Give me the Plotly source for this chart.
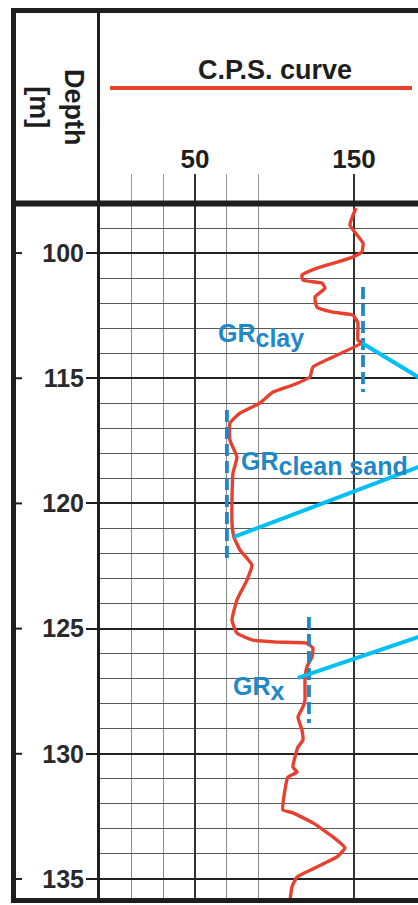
import plotly.graph_objects as go

# ---- log data -------------------------------------------------------------
# C.P.S. gamma-ray curve: depth [m] and counts per second
DEPTH = [108.20, 108.88, 109.60, 109.96, 110.20, 110.60, 110.88, 111.08, 111.20, 111.40,
         111.76, 112.16, 112.36, 112.48, 112.80, 113.47, 113.59, 114.15, 114.55, 114.95,
         115.27, 115.55, 115.99, 116.39, 116.79, 117.47, 118.15, 118.79, 119.86, 120.78,
         121.34, 121.86, 122.46, 123.06, 123.86, 124.66, 125.18, 125.46, 125.54, 125.58,
         125.78, 126.13, 126.53, 127.05, 127.85, 128.13, 128.53, 129.05, 129.45, 129.73,
         130.13, 130.53, 130.73, 130.93, 131.45, 132.24, 132.36, 132.76, 133.32, 133.76,
         134.12, 134.52, 134.92, 135.32, 135.92]
CPS = [151.3, 147.5, 155.7, 155.0, 147.5, 126.7, 117.3, 117.9, 129.9, 131.8,
       125.5, 126.7, 136.8, 149.4, 152.5, 152.5, 155.0, 136.8, 124.2, 122.3,
       111.6, 99.1, 90.9, 78.3, 72.0, 72.0, 76.4, 73.9, 73.3, 73.3,
       74.5, 78.3, 85.8, 82.7, 76.4, 73.3, 76.4, 86.5, 101.6, 120.4,
       124.2, 123.6, 120.4, 119.2, 119.2, 117.9, 114.8, 117.3, 117.9, 114.8,
       112.9, 111.6, 114.2, 108.5, 106.6, 105.3, 111.6, 124.2, 136.8, 144.3,
       139.3, 126.7, 114.2, 111.0, 109.7]

# Reference GR readings (dashed markers)
GR_NAMES = ["clay", "clean sand", "x"]
GR_VALUES = [155.7, 70.1, 121.7]
GR_TOP = [111.36, 116.27, 124.54]
GR_BASE = [115.55, 122.34, 128.77]

# Pointer lines from each reading off to the right
LINK_FROM_CPS = [155.0, 74.5, 114.8]
LINK_FROM_DEPTH = [113.59, 121.34, 126.97]
LINK_TO_CPS = [200.0, 200.0, 200.0]
LINK_TO_DEPTH = [115.32, 118.32, 125.13]

# Axis ticks
DEPTH_TICKS = [110, 115, 120, 125, 130, 135]
DEPTH_TICK_TEXT = ["100", "115", "120", "125", "130", "135"]
DEPTH_MINOR = [d for d in range(109, 136) if d % 5]
CPS_TICKS = [50, 150]
CPS_TICK_TEXT = ["50", "150"]
CPS_MINOR = [10, 30, 70, 90]

# ---- style ----------------------------------------------------------------
W, H = 418, 905
RED = "#e8402f"
BLUE = "#1e88c8"
CYAN = "#00bff3"
INK = "#1e1e1e"
FONT = "Liberation Sans, Arial, sans-serif"

def px(x):
    return x / W

def py(y):
    return 1 - y / H

TRACK_LEFT, TRACK_TOP, TRACK_BOTTOM = 98, 206, 898

fig = go.Figure()

fig.add_trace(go.Scatter(
    x=CPS, y=DEPTH, mode="lines",
    line=dict(color=RED, width=3.4, shape="spline", smoothing=0.4),
    hoverinfo="skip", showlegend=False,
))

for val, top, base in zip(GR_VALUES, GR_TOP, GR_BASE):
    fig.add_trace(go.Scatter(
        x=[val, val], y=[top, base], mode="lines",
        line=dict(color=BLUE, width=3.8, dash="12px,5px"),
        hoverinfo="skip", showlegend=False,
    ))

for x0, y0, x1, y1 in zip(LINK_FROM_CPS, LINK_FROM_DEPTH, LINK_TO_CPS, LINK_TO_DEPTH):
    fig.add_trace(go.Scatter(
        x=[x0, x1], y=[y0, y1], mode="lines",
        line=dict(color=CYAN, width=4),
        hoverinfo="skip", showlegend=False,
    ))

# GR labels
label_pos = [(63.5, 113.3), (77.5, 118.4), (72.5, 127.4)]
for name, (lx, ly) in zip(GR_NAMES, label_pos):
    fig.add_annotation(
        x=lx, y=ly, xref="x", yref="y", xanchor="left", yanchor="middle",
        text=f"GR<sub><span style='font-size:25px'>{name}</span></sub>",
        showarrow=False,
        font=dict(family=FONT, size=25, color=BLUE, weight="bold"),
    )

# Header texts
fig.add_annotation(
    x=px(275), y=py(70), xref="paper", yref="paper",
    xanchor="center", yanchor="middle",
    text="C.P.S. curve", showarrow=False,
    font=dict(family=FONT, size=27, color=INK, weight="bold"),
)
fig.add_annotation(
    x=px(56), y=py(107), xref="paper", yref="paper",
    xanchor="center", yanchor="middle",
    text="Depth<br>[m]", textangle=90, showarrow=False,
    font=dict(family=FONT, size=27, color=INK, weight="bold"),
)

# Frame, dividers and the legend line
frame = [
    (12, 10.5, W + 5, 10.5, 5),        # top
    (13.5, 8, 13.5, 903, 5),           # left
    (11, 203.5, W + 5, 203.5, 6),      # header base
    (11, 900.5, W + 5, 900.5, 5),      # bottom
    (98.5, 10, 98.5, 900, 3),          # depth column divider
]
for x0, y0, x1, y1, w in frame:
    fig.add_shape(type="line", xref="paper", yref="paper",
                  x0=px(x0), y0=py(y0), x1=px(x1), y1=py(y1),
                  line=dict(color=INK, width=w))
fig.add_shape(type="line", xref="paper", yref="paper",
              x0=px(110), y0=py(88), x1=px(412), y1=py(88),
              line=dict(color=RED, width=4))
for d in DEPTH_TICKS:
    fig.add_shape(type="line", xref="paper", yref="y",
                  x0=px(14), x1=px(22), y0=d, y1=d,
                  line=dict(color=INK, width=2))

fig.update_layout(
    width=W, height=H, autosize=False,
    margin=dict(l=0, r=0, t=0, b=0),
    paper_bgcolor="white", plot_bgcolor="white",
    showlegend=False,
    xaxis=dict(
        domain=[px(TRACK_LEFT), 1], range=[-11.0, 190.3], side="top",
        tickvals=CPS_TICKS, ticktext=CPS_TICK_TEXT,
        ticks="outside", ticklen=31, tickwidth=2, tickcolor="#333",
        ticklabelstandoff=-4,
        tickfont=dict(family=FONT, size=26, color=INK, weight="bold"),
        showgrid=True, gridcolor="#333", gridwidth=2,
        minor=dict(tickvals=CPS_MINOR, ticks="outside", ticklen=31, tickwidth=1,
                   tickcolor="#999", showgrid=True, gridcolor="#8c8c8c", gridwidth=1.2),
        zeroline=False, showline=False, fixedrange=True,
    ),
    yaxis=dict(
        domain=[py(TRACK_BOTTOM), py(TRACK_TOP)], range=[135.76, 108.12],
        tickvals=DEPTH_TICKS, ticktext=DEPTH_TICK_TEXT,
        ticks="outside", ticklen=11, tickwidth=2, tickcolor=INK,
        ticklabelstandoff=-3,
        tickfont=dict(family=FONT, size=25, color="#2a2a2a", weight="bold"),
        showgrid=True, gridcolor="#222", gridwidth=2,
        minor=dict(tickvals=DEPTH_MINOR, showgrid=True, gridcolor="#5a5a5a", gridwidth=1.3),
        zeroline=False, showline=False, fixedrange=True,
    ),
)

fig.write_html("out.html")
